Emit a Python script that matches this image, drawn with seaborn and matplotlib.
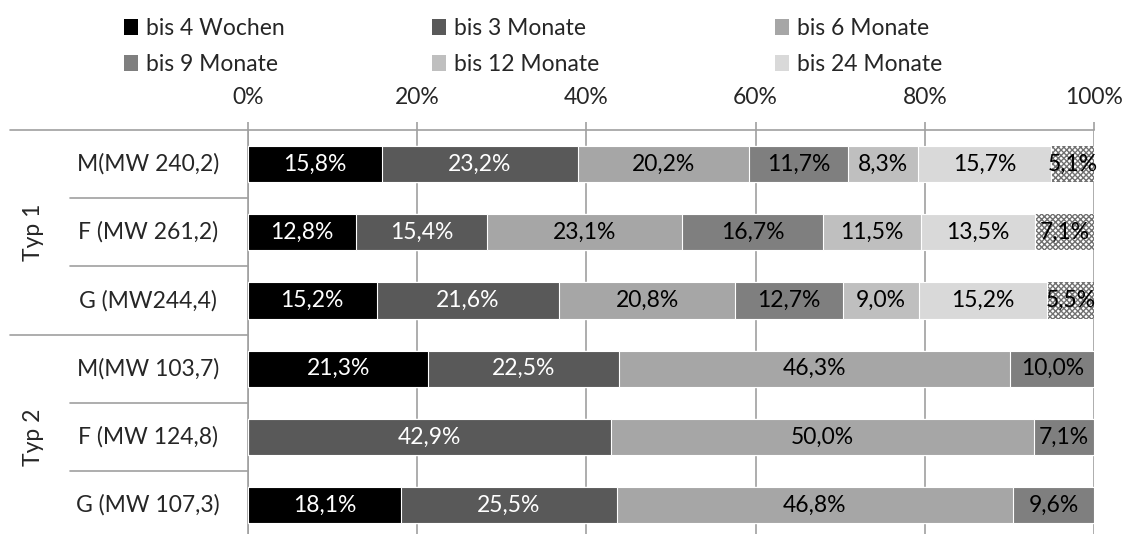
import numpy as np
import pandas as pd
import seaborn as sns
import matplotlib.pyplot as plt
from matplotlib.patches import Patch
from matplotlib.lines import Line2D

rows = ["M(MW 240,2)", "F (MW 261,2)", "G (MW244,4)",
        "M(MW 103,7)", "F (MW 124,8)", "G (MW 107,3)"]
groups = ["Typ 1", "Typ 2"]
series_names = ["bis 4 Wochen", "bis 3 Monate", "bis 6 Monate",
                "bis 9 Monate", "bis 12 Monate", "bis 24 Monate", "über 24 Monate"]

bis_4_wochen = [15.8, 12.8, 15.2, 21.3, 0.0, 18.1]
bis_3_monate = [23.2, 15.4, 21.6, 22.5, 42.9, 25.5]
bis_6_monate = [20.2, 23.1, 20.8, 46.3, 50.0, 46.8]
bis_9_monate = [11.7, 16.7, 12.7, 10.0, 7.1, 9.6]
bis_12_monate = [8.3, 11.5, 9.0, 0.0, 0.0, 0.0]
bis_24_monate = [15.7, 13.5, 15.2, 0.0, 0.0, 0.0]
ueber_24_monate = [5.1, 7.1, 5.5, 0.0, 0.0, 0.0]

x_ticks = [0, 20, 40, 60, 80, 100]

colors = ["#000000", "#595959", "#a6a6a6", "#7f7f7f", "#bfbfbf", "#d9d9d9", "#ffffff"]
label_colors = ["white", "white", "black", "black", "black", "black", "black"]

df = pd.DataFrame({"row": rows})
for name, vals in zip(series_names, [bis_4_wochen, bis_3_monate, bis_6_monate, bis_9_monate,
                                     bis_12_monate, bis_24_monate, ueber_24_monate]):
    df[name] = vals

W, H = 1126, 534
FS = 16.5
grid_col = "#a0a0a0"

sns.set_style("white")
plt.rcParams["font.family"] = ["Lato", "DejaVu Sans"]
plt.rcParams["hatch.linewidth"] = 1.0

fig = plt.figure(figsize=(W / 100, H / 100), dpi=100)
ax_l, ax_r, ax_t = 248, 1094, 130
row_h = 68.2
ax = fig.add_axes([ax_l / W, 0, (ax_r - ax_l) / W, (H - ax_t) / H])

# stacked bars: draw cumulative totals from the last segment backwards
for k in reversed(range(len(series_names))):
    cum = df[series_names[:k + 1]].sum(axis=1)
    if k == len(series_names) - 1:
        cum = cum.where(df[series_names[k]] > 0, 0)
    sns.barplot(x=cum, y=df["row"], color=colors[k], orient="h", width=0.53,
                errorbar=None, edgecolor="white", linewidth=0.8, ax=ax, zorder=3)
    if k == len(series_names) - 1:
        for p in ax.containers[-1]:
            p.set_facecolor("white")
            p.set_hatch("xxxxxx")
            p.set_edgecolor("#707070")
            p.set_linewidth(0)

# value labels
for i in range(len(rows)):
    left = 0
    for k, name in enumerate(series_names):
        v = df.loc[i, name]
        if v > 0:
            ax.text(left + v / 2, i, f"{v:.1f}%".replace(".", ","), ha="center", va="center",
                    fontsize=FS, color=label_colors[k], zorder=5)
        left += v

ax.set_xlim(0, 100)
ax.set_ylim(-0.5 + (H - ax_t) / row_h, -0.5)
ax.xaxis.tick_top()
ax.set_xticks(x_ticks)
ax.set_xticklabels([f"{t}%" for t in x_ticks], fontsize=FS)
ax.tick_params(axis="x", length=6, width=1.2, color=grid_col, pad=10)
ax.tick_params(axis="y", length=0, labelleft=False)
ax.set_xlabel("")
ax.set_ylabel("")
ax.grid(axis="x", color=grid_col, linewidth=1.2, zorder=0)
ax.set_axisbelow(True)
for s in ["right", "bottom"]:
    ax.spines[s].set_visible(False)
for s in ["top", "left"]:
    ax.spines[s].set_color(grid_col)
    ax.spines[s].set_linewidth(1.2)

# two-level category axis on the left
tr = ax.get_yaxis_transform()
ax_w = ax_r - ax_l
x_outer = (10 - ax_l) / ax_w
x_inner = (70 - ax_l) / ax_w
x_cat = (148 - ax_l) / ax_w
x_grp = (33 - ax_l) / ax_w
for i, r in enumerate(rows):
    ax.text(x_cat, i, r, transform=tr, ha="center", va="center", fontsize=FS)
for yb in [-0.5, 2.5]:
    ax.add_line(Line2D([x_outer, 0], [yb, yb], transform=tr, color=grid_col, lw=1.2, clip_on=False))
for yb in [0.5, 1.5, 3.5, 4.5]:
    ax.add_line(Line2D([x_inner, 0], [yb, yb], transform=tr, color=grid_col, lw=1.2, clip_on=False))
for g, yc in zip(groups, [1, 4]):
    ax.text(x_grp, yc, g, transform=tr, ha="center", va="center", rotation=90, fontsize=FS)

# legend: three columns, each placed at its own x position
col_x = [124, 432, 775]
for c in range(3):
    ks = [c, c + 3]
    leg = fig.legend([Patch(facecolor=colors[k], edgecolor="none") for k in ks],
                     [series_names[k] for k in ks],
                     loc="upper left", bbox_to_anchor=(col_x[c] / W, 1 - 18 / H), ncol=1,
                     frameon=False, fontsize=FS, handlelength=0.6, handleheight=0.65,
                     handletextpad=0.35, labelspacing=0.66, borderpad=0, borderaxespad=0)

fig.savefig("out.png", dpi=100)
